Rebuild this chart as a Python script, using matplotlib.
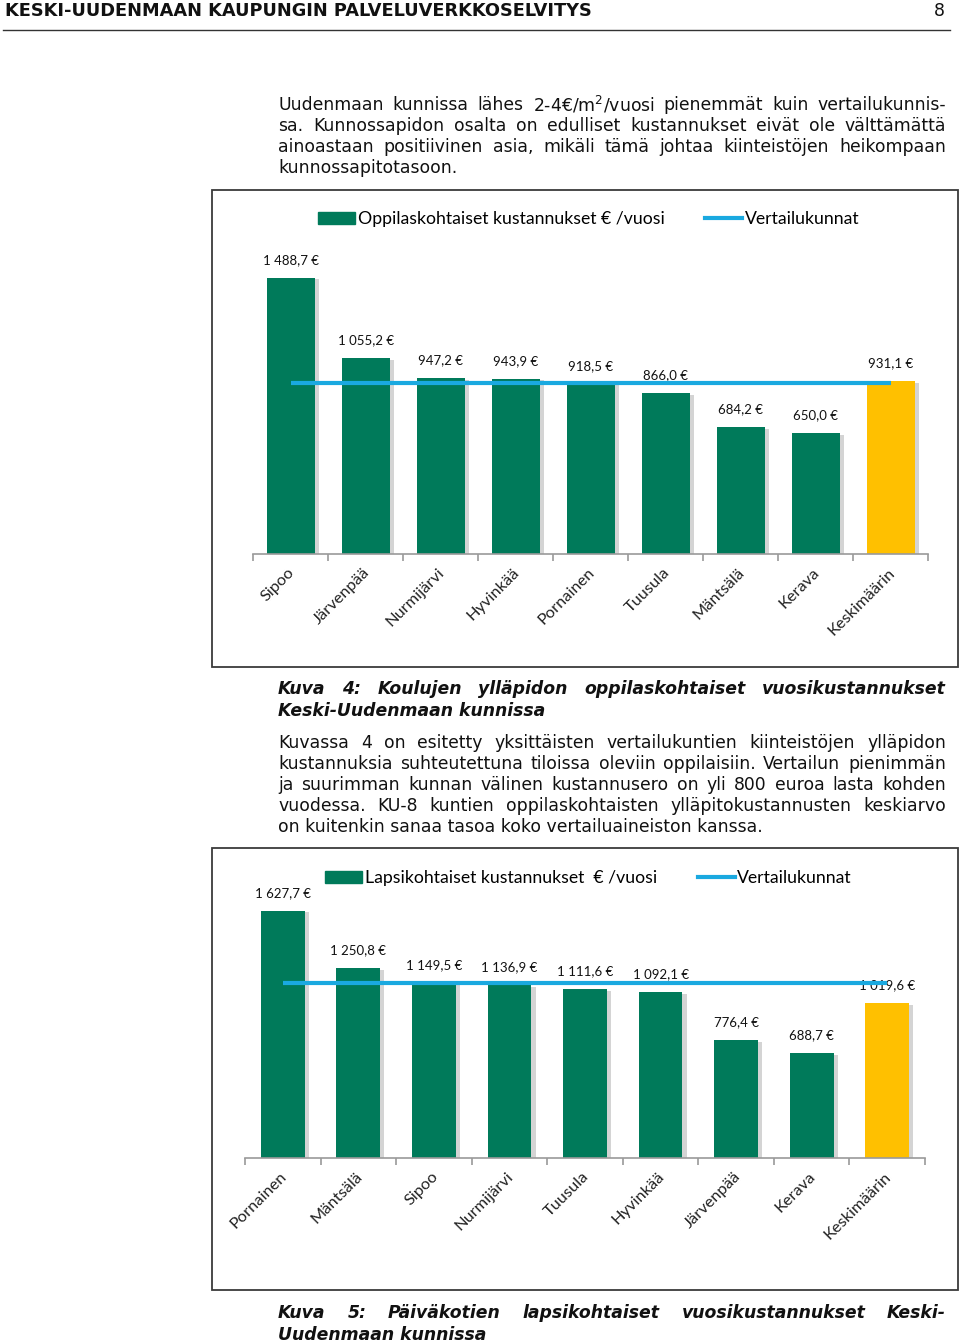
import matplotlib
matplotlib.use("Agg")
import matplotlib.pyplot as plt
import matplotlib.transforms as mtransforms
from matplotlib.lines import Line2D
from matplotlib.patches import Rectangle
import matplotlib.patheffects as pe

# --- data ---
cats1 = ["Sipoo", "Järvenpää", "Nurmijärvi", "Hyvinkää", "Pornainen",
         "Tuusula", "Mäntsälä", "Kerava", "Keskimäärin"]
vals1 = [1488.7, 1055.2, 947.2, 943.9, 918.5, 866.0, 684.2, 650.0, 931.1]
ref1 = 925.0

cats2 = ["Pornainen", "Mäntsälä", "Sipoo", "Nurmijärvi", "Tuusula",
         "Hyvinkää", "Järvenpää", "Kerava", "Keskimäärin"]
vals2 = [1627.7, 1250.8, 1149.5, 1136.9, 1111.6, 1092.1, 776.4, 688.7, 1019.6]
ref2 = 1150.0

legend1 = ["Oppilaskohtaiset kustannukset € /vuosi", "Vertailukunnat"]
legend2 = ["Lapsikohtaiset kustannukset  € /vuosi", "Vertailukunnat"]

header = "KESKI-UUDENMAAN KAUPUNGIN PALVELUVERKKOSELVITYS"
page_no = "8"

para1 = ["Uudenmaan kunnissa lähes 2-4€/m$^2$/vuosi pienemmät kuin vertailukunnis-",
         "sa. Kunnossapidon osalta on edulliset kustannukset eivät ole välttämättä",
         "ainoastaan positiivinen asia, mikäli tämä johtaa kiinteistöjen heikompaan",
         "kunnossapitotasoon."]
cap1 = ["Kuva 4: Koulujen ylläpidon oppilaskohtaiset vuosikustannukset",
        "Keski-Uudenmaan kunnissa"]
para2 = ["Kuvassa 4 on esitetty yksittäisten vertailukuntien kiinteistöjen ylläpidon",
         "kustannuksia suhteutettuna tiloissa oleviin oppilaisiin. Vertailun pienimmän",
         "ja suurimman kunnan välinen kustannusero on yli 800 euroa lasta kohden",
         "vuodessa. KU-8 kuntien oppilaskohtaisten ylläpitokustannusten keskiarvo",
         "on kuitenkin sanaa tasoa koko vertailuaineiston kanssa."]
cap2 = ["Kuva 5: Päiväkotien lapsikohtaiset vuosikustannukset Keski-",
        "Uudenmaan kunnissa"]

GREEN = "#007a5a"
YELLOW = "#ffc000"
BLUE = "#1aa9e0"

W, H = 960, 1344
fig = plt.figure(figsize=(W / 100, H / 100), dpi=100)
renderer = fig.canvas.get_renderer()


def fx(x):
    return x / W


def fy(y):
    return 1 - y / H


def justified(lines, x0, x1, y0, pitch, **kw):
    for i, line in enumerate(lines):
        y = fy(y0 + i * pitch)
        if i == len(lines) - 1:
            fig.text(fx(x0), y, line, va="center", ha="left", **kw)
            continue
        words = line.split()
        texts = [fig.text(0, y, w, va="center", ha="left", **kw) for w in words]
        widths = [t.get_window_extent(renderer).width for t in texts]
        gap = (x1 - x0 - sum(widths)) / (len(words) - 1)
        x = x0
        for t, w in zip(texts, widths):
            t.set_x(fx(x))
            x += w + gap


body = dict(family="DejaVu Sans", fontsize=12.4, color="#111111")
capkw = dict(family="DejaVu Sans", fontsize=12.4, fontweight="bold",
             style="italic", color="#111111")

# header
fig.text(fx(5), fy(11), header, family="DejaVu Sans", fontweight="bold",
         fontsize=12.8, va="center", ha="left", color="#111111")
fig.text(fx(945), fy(11), page_no, family="DejaVu Sans", fontsize=12.5,
         va="center", ha="right", color="#111111")
fig.add_artist(Line2D([fx(3), fx(950)], [fy(30), fy(30)], color="#333333", lw=1))

justified(para1, 278, 946, 105, 21, **body)
justified(cap1, 278, 946, 689, 21.5, **capkw)
justified(para2, 278, 946, 743, 21, **body)
justified(cap2, 278, 946, 1313, 21.5, **capkw)


def chart(box, ax_px, cats, vals, ref, labels, width, legend_y, legend_x):
    bx0, by0, bx1, by1 = box
    fig.add_artist(Rectangle((fx(bx0), fy(by1)), fx(bx1 - bx0), (by1 - by0) / H,
                             fill=False, ec="#3a3a3a", lw=1.3))
    left, right, top, base = ax_px
    ax = fig.add_axes([fx(left), fy(base), fx(right - left), (base - top) / H])
    n = len(cats)
    colors = [GREEN] * (n - 1) + [YELLOW]
    bars = ax.bar(range(n), vals, width=width, color=colors, zorder=2)
    for b in bars:
        b.set_path_effects([pe.SimplePatchShadow(offset=(3, -1), alpha=0.25,
                                                 shadow_rgbFace="#555555"),
                            pe.Normal()])
    ax.plot(range(n), [ref] * n, color=BLUE, lw=3, zorder=4,
            solid_capstyle="butt")
    for i, v in enumerate(vals):
        txt = f"{v:,.1f}".replace(",", " ").replace(".", ",") + " €"
        ax.annotate(txt, (i, v), xytext=(0, 12), textcoords="offset pixels",
                    ha="center", va="bottom", family="Lato", fontsize=9.5,
                    color="#111111", zorder=3, annotation_clip=False)
    ax.set_xlim(-0.5, n - 0.5)
    ax.set_ylim(0, max(vals))
    ax.set_yticks([])
    for s in ["top", "right", "left"]:
        ax.spines[s].set_visible(False)
    ax.spines["bottom"].set_color("#9a9a9a")
    ax.spines["bottom"].set_linewidth(1.2)
    ax.set_xticks([i - 0.5 for i in range(n + 1)], minor=True)
    ax.tick_params(axis="x", which="minor", length=5, color="#9a9a9a", width=1.2)
    ax.set_xticks(range(n))
    ax.set_xticklabels(cats, rotation=45, ha="right", va="center",
                       rotation_mode="anchor", family="Lato", fontsize=11.8,
                       color="#222222")
    ax.tick_params(axis="x", which="major", length=0, pad=12)
    off = mtransforms.ScaledTranslation(2 / 100, 0, fig.dpi_scale_trans)
    for lab in ax.get_xticklabels():
        lab.set_transform(lab.get_transform() + off)
    ax.patch.set_alpha(0)

    # legend
    h1 = Rectangle((0, 0), 1, 1, color=GREEN)
    h2 = Line2D([], [], color=BLUE, lw=3)
    fig.legend([h1, h2], labels, loc="center left",
               bbox_to_anchor=(fx(legend_x), fy(legend_y)), ncol=2,
               frameon=False, prop={"family": "Lato", "size": 12.7},
               handlelength=2.1, handleheight=0.7, handletextpad=0.15,
               columnspacing=2.3, borderaxespad=0, borderpad=0)
    return ax


chart((212, 190, 958, 667), (253, 928, 278, 554), cats1, vals1, ref1,
      legend1, 0.64, 219, 318)
chart((212, 848, 958, 1290), (245, 925, 911, 1158), cats2, vals2, ref2,
      legend2, 0.58, 878, 325)

fig.savefig("out.png", dpi=100, facecolor="white")
